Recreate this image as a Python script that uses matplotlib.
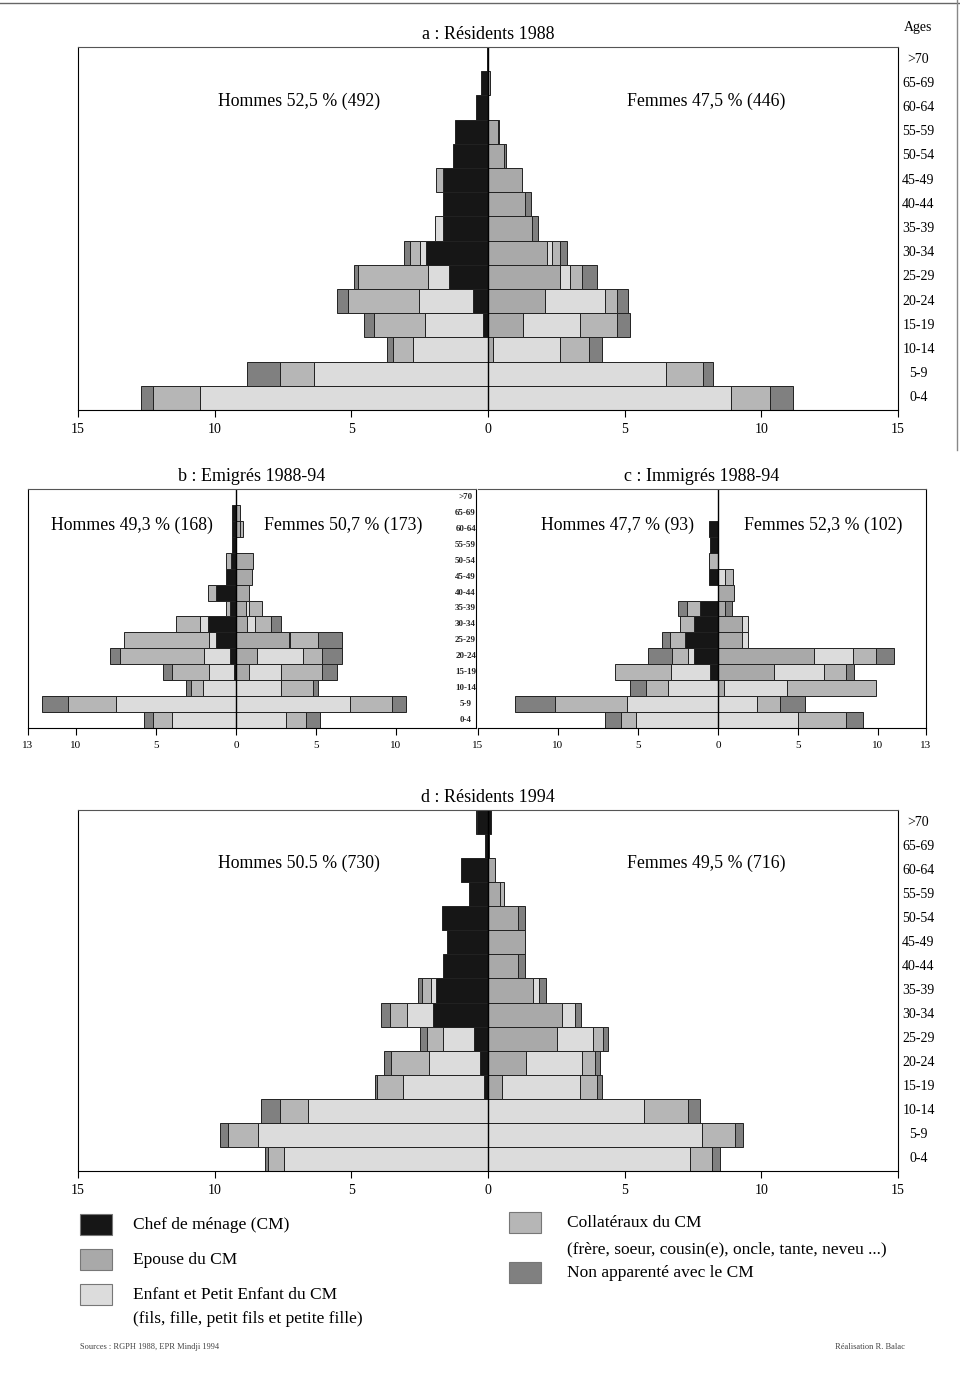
import matplotlib
matplotlib.use("Agg")
import matplotlib.pyplot as plt
from matplotlib.patches import Rectangle

plt.rcParams['font.family'] = ['Liberation Serif', 'DejaVu Serif']

# Age groups, bottom (0-4) to top (>70)
ages = ['0-4', '5-9', '10-14', '15-19', '20-24', '25-29', '30-34', '35-39',
        '40-44', '45-49', '50-54', '55-59', '60-64', '65-69', '>70']

categories = ['Chef de ménage (CM)', 'Epouse du CM', 'Enfant et Petit Enfant du CM',
              'Collatéraux du CM', 'Non apparenté avec le CM']
colors = ['#161616', '#a9a9a9', '#dcdcdc', '#b6b6b6', '#808080']

# % of population per age group, columns: chef, epouse, enfant, collateraux, non apparente
a_hommes = [[0, 0, 10.54, 1.72, 0.42], [0, 0, 6.37, 1.25, 1.2], [0, 0, 2.76, 0.7, 0.25],
            [0.18, 0, 2.14, 1.84, 0.37], [0.55, 0, 1.96, 2.6, 0.4], [1.41, 0, 0.78, 2.55, 0.15],
            [2.27, 0, 0.2, 0.4, 0.2], [1.65, 0, 0.3, 0, 0], [1.65, 0, 0, 0, 0],
            [1.65, 0, 0, 0.25, 0], [1.29, 0, 0, 0, 0], [1.22, 0, 0, 0, 0],
            [0.43, 0, 0, 0, 0], [0.27, 0, 0, 0, 0], [0.05, 0, 0, 0, 0]]
a_femmes = [[0, 0, 8.9, 1.41, 0.86], [0, 0, 6.52, 1.35, 0.37], [0, 0.2, 2.45, 1.04, 0.47],
            [0, 1.28, 2.08, 1.35, 0.49], [0, 2.08, 2.2, 0.43, 0.43], [0, 2.64, 0.37, 0.43, 0.55],
            [0, 2.15, 0.2, 0.3, 0.25], [0, 1.6, 0, 0, 0.22], [0, 1.35, 0, 0, 0.22],
            [0, 1.25, 0, 0, 0], [0, 0.6, 0, 0, 0.05], [0, 0.35, 0, 0, 0.05],
            [0, 0, 0, 0, 0], [0, 0.08, 0, 0, 0], [0, 0, 0, 0, 0]]

b_hommes = [[0, 0, 4.0, 1.19, 0.58], [0, 0, 7.5, 3.0, 1.63], [0, 0, 2.04, 0.8, 0.3],
            [0.1, 0, 1.6, 2.33, 0.52], [0.37, 0, 1.6, 5.25, 0.63], [1.25, 0, 0.46, 5.3, 0],
            [1.77, 0, 0.5, 1.5, 0], [0.37, 0, 0, 0.25, 0], [1.25, 0, 0, 0.5, 0],
            [0.6, 0, 0, 0, 0], [0.3, 0, 0, 0.3, 0], [0.25, 0, 0, 0, 0],
            [0.25, 0, 0, 0, 0], [0.25, 0, 0, 0, 0], [0, 0, 0, 0, 0]]
b_femmes = [[0, 0, 3.1, 1.3, 0.85], [0, 0, 7.15, 2.6, 0.85], [0, 0, 2.8, 2.0, 0.3],
            [0, 0.8, 2.0, 2.6, 0.9], [0, 1.3, 2.9, 1.15, 1.25], [0, 3.3, 0.1, 1.7, 1.5],
            [0, 0.7, 0.5, 1.0, 0.6], [0, 0.6, 0.2, 0.8, 0], [0, 0.8, 0, 0, 0],
            [0, 1.0, 0, 0, 0], [0, 1.05, 0, 0, 0], [0, 0, 0, 0, 0],
            [0, 0.25, 0, 0.2, 0], [0, 0.25, 0, 0, 0], [0, 0, 0, 0, 0]]

c_hommes = [[0, 0, 5.1, 0.96, 1.0], [0, 0, 5.7, 4.5, 2.5], [0, 0, 3.1, 1.4, 1.0],
            [0.5, 0, 2.45, 3.5, 0], [1.5, 0, 0.4, 1.0, 1.5], [2.04, 0, 0, 0.95, 0.52],
            [1.5, 0, 0, 0.9, 0], [1.1, 0, 0, 0.85, 0.56], [0, 0, 0, 0, 0],
            [0.54, 0, 0, 0, 0], [0, 0, 0, 0.54, 0], [0.5, 0, 0, 0, 0],
            [0.54, 0, 0, 0, 0], [0, 0, 0, 0, 0], [0, 0, 0, 0, 0]]
c_femmes = [[0, 0, 5.0, 3.0, 1.04], [0, 0, 2.45, 1.4, 1.6], [0, 0.4, 3.9, 5.6, 0],
            [0, 3.5, 3.1, 1.4, 0.5], [0, 6.0, 2.45, 1.4, 1.15], [0, 1.5, 0.35, 0, 0],
            [0, 1.5, 0.35, 0, 0], [0, 0.45, 0, 0, 0.45], [0, 1.0, 0, 0, 0],
            [0, 0, 0.45, 0.5, 0], [0, 0, 0, 0, 0], [0, 0, 0, 0, 0],
            [0, 0, 0, 0, 0], [0, 0, 0, 0, 0], [0, 0, 0, 0, 0]]

d_hommes = [[0, 0, 7.45, 0.6, 0.12], [0, 0, 8.4, 1.1, 0.3], [0, 0, 6.6, 1.0, 0.7],
            [0.15, 0, 2.95, 0.95, 0.1], [0.3, 0, 1.85, 1.4, 0.25], [0.5, 0, 1.15, 0.6, 0.25],
            [2.0, 0, 0.95, 0.65, 0.3], [1.9, 0, 0.2, 0.3, 0.15], [1.63, 0, 0, 0, 0],
            [1.5, 0, 0, 0, 0], [1.7, 0, 0, 0, 0], [0.7, 0, 0, 0, 0],
            [1.0, 0, 0, 0, 0], [0.1, 0, 0, 0, 0], [0.4, 0, 0, 0.05, 0]]
d_femmes = [[0, 0, 7.39, 0.8, 0.28], [0, 0, 7.84, 1.2, 0.3], [0, 0, 5.7, 1.6, 0.45],
            [0, 0.5, 2.87, 0.6, 0.2], [0, 1.38, 2.05, 0.5, 0.15], [0, 2.54, 1.3, 0.35, 0.2],
            [0, 2.7, 0.5, 0, 0.2], [0, 1.65, 0.2, 0, 0.28], [0, 1.1, 0, 0, 0.25],
            [0, 1.35, 0, 0, 0], [0, 1.1, 0, 0, 0.25], [0, 0.45, 0, 0.15, 0],
            [0, 0.25, 0, 0, 0], [0, 0.05, 0, 0, 0], [0.1, 0, 0, 0, 0]]

W, H = 960, 1373
fig = plt.figure(figsize=(W / 100, H / 100), dpi=100)


def px_axes(left, top, right, bottom):
    return fig.add_axes([left / W, 1 - bottom / H, (right - left) / W, (bottom - top) / H])


def pyramid(ax, hommes, femmes, xmin, xmax, ticks, ticklabels):
    for side, table in ((-1, hommes), (1, femmes)):
        for i, row in enumerate(table):
            start = 0
            for k, v in enumerate(row):
                if v > 0:
                    ax.barh(i, side * v, left=side * start, height=1.0, color=colors[k],
                            edgecolor='#222222', linewidth=0.7)
                start += v
    ax.axvline(0, color='black', lw=1.0)
    ax.set_xlim(xmin, xmax)
    ax.set_ylim(-0.5, len(ages) - 0.5)
    ax.set_yticks([])
    ax.set_xticks(ticks)
    ax.set_xticklabels(ticklabels, fontsize=10)
    ax.tick_params(axis='x', direction='out', length=5, width=0.8, pad=4)
    ax.patch.set_alpha(0)
    for s in ax.spines.values():
        s.set_linewidth(0.8)
    ax.spines['top'].set_color('#555555')


big_ticks = [-15, -10, -5, 0, 5, 10, 15]
big_labels = ['15', '10', '5', '0', '5', '10', '15']

# a : Residents 1988
ax_a = px_axes(78, 47, 898, 410)
pyramid(ax_a, a_hommes, a_femmes, -15, 15, big_ticks, big_labels)
ax_a.set_title('a : Résidents 1988', fontsize=13, pad=6)
ax_a.text(-6.9, 12.25, 'Hommes 52,5 % (492)', ha='center', va='center', fontsize=12.8)
ax_a.text(8.0, 12.25, 'Femmes 47,5 % (446)', ha='center', va='center', fontsize=12.8)
for i, lab in enumerate(ages):
    ax_a.text(1.025, (i + 0.5) / len(ages), lab, transform=ax_a.transAxes,
              ha='center', va='center', fontsize=10)
ax_a.text(1.025, 1.055, 'Ages', transform=ax_a.transAxes, ha='center', va='center', fontsize=10)

# b : Emigres 1988-94
ax_b = px_axes(28, 489, 476, 728)
pyramid(ax_b, b_hommes, b_femmes, -13, 15, [-13, -10, -5, 0, 5, 10],
        ['13', '10', '5', '0', '5', '10'])
ax_b.set_title('b : Emigrés 1988-94', fontsize=13, pad=6)
ax_b.tick_params(axis='x', labelsize=8)
ax_b.text(-6.5, 12.25, 'Hommes 49,3 % (168)', ha='center', va='center', fontsize=12.8)
ax_b.text(6.7, 12.25, 'Femmes 50,7 % (173)', ha='center', va='center', fontsize=12.8)
for i, lab in enumerate(ages):
    ax_b.text(14.35, i, lab, ha='center', va='center', fontsize=6.5, fontweight='bold',
              color='#222222')

# c : Immigres 1988-94
ax_c = px_axes(478, 489, 926, 728)
pyramid(ax_c, c_hommes, c_femmes, -15, 13, [-15, -10, -5, 0, 5, 10, 13],
        ['15', '10', '5', '0', '5', '10', '13'])
ax_c.set_title('c : Immigrés 1988-94', fontsize=13, pad=6)
ax_c.tick_params(axis='x', labelsize=8)
ax_c.spines['left'].set_visible(False)
ax_c.text(-6.3, 12.25, 'Hommes 47,7 % (93)', ha='center', va='center', fontsize=12.8)
ax_c.text(6.6, 12.25, 'Femmes 52,3 % (102)', ha='center', va='center', fontsize=12.8)

# d : Residents 1994
ax_d = px_axes(78, 810, 898, 1171)
pyramid(ax_d, d_hommes, d_femmes, -15, 15, big_ticks, big_labels)
ax_d.set_title('d : Résidents 1994', fontsize=13, pad=6)
ax_d.text(-6.9, 12.3, 'Hommes 50.5 % (730)', ha='center', va='center', fontsize=12.8)
ax_d.text(8.0, 12.3, 'Femmes 49,5 % (716)', ha='center', va='center', fontsize=12.8)
for i, lab in enumerate(ages):
    ax_d.text(1.025, (i + 0.5) / len(ages), lab, transform=ax_d.transAxes,
              ha='center', va='center', fontsize=10)

# overlay in pixel coordinates for legend, notes and page border
ov = fig.add_axes([0, 0, 1, 1], zorder=-1)
ov.set_xlim(0, W)
ov.set_ylim(H, 0)
ov.axis('off')

legend_items = [(80, 1214, 0, 'Chef de ménage (CM)'),
                (80, 1249, 1, 'Epouse du CM'),
                (80, 1284, 2, 'Enfant et Petit Enfant du CM'),
                (509, 1212, 3, 'Collatéraux du CM'),
                (509, 1262, 4, 'Non apparenté avec le CM')]
for x, y, k, lab in legend_items:
    ov.add_patch(Rectangle((x, y), 32, 21, facecolor=colors[k], edgecolor='#777777', lw=0.8))
    ov.text(x + 53 + (5 if k >= 3 else 0), y + 11, lab, ha='left', va='center', fontsize=12.5)
ov.text(133, 1319, '(fils, fille, petit fils et petite fille)', ha='left', va='center', fontsize=12.5)
ov.text(567, 1249, '(frère, soeur, cousin(e), oncle, tante, neveu ...)', ha='left', va='center',
        fontsize=12.5)
ov.text(80, 1347, 'Sources : RGPH 1988, EPR Mindji 1994', ha='left', va='center', fontsize=6,
        color='#444444')
ov.text(905, 1347, 'Réalisation R. Balac', ha='right', va='center', fontsize=6, color='#444444')

ov.plot([0, W], [3, 3], color='#666666', lw=1)
ov.plot([957, 957], [0, 450], color='#888888', lw=1)

fig.savefig('out.png', dpi=100)
